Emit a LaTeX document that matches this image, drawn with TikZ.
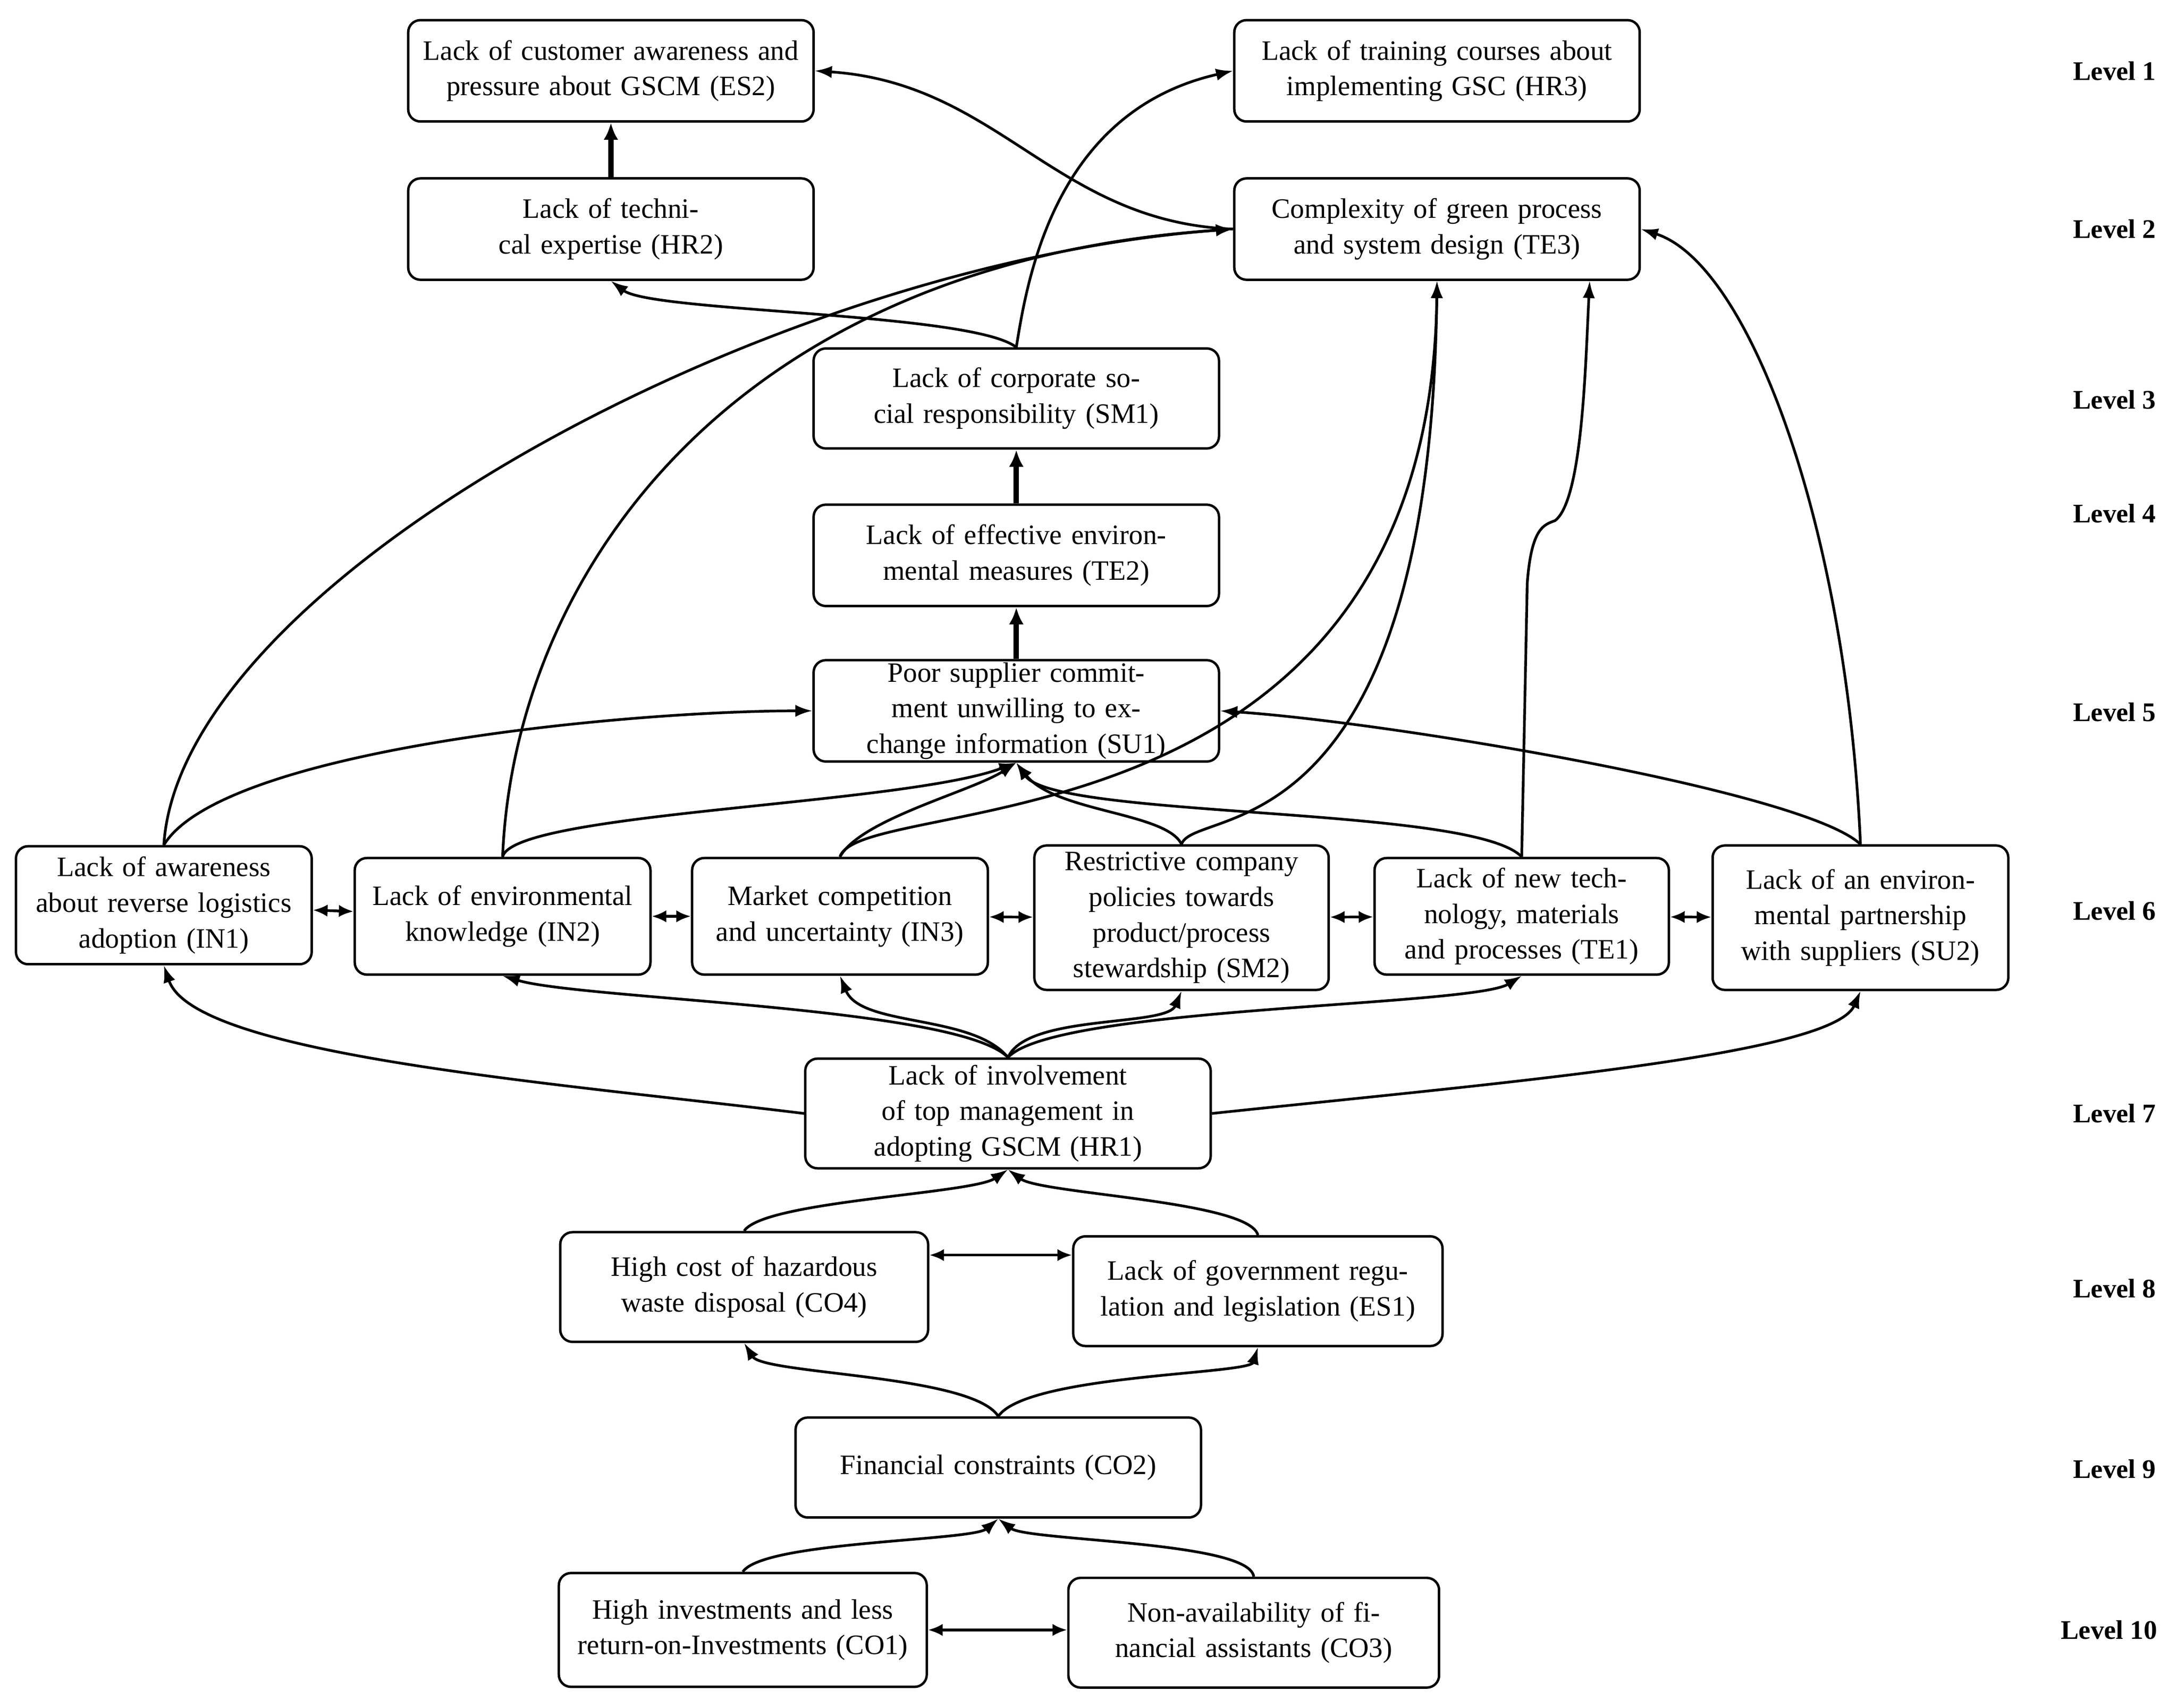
\documentclass[tikz,border=0pt]{standalone}
\usepackage{fontspec}
\setmainfont{Liberation Serif}
\usetikzlibrary{arrows.meta}
\begin{document}
\begin{tikzpicture}[x=0.02cm,y=-0.02cm,
  box/.style 2 args={draw,line width=1pt,rounded corners=5pt,align=center,inner sep=0pt,
    minimum width=#1*0.02cm,minimum height=#2*0.02cm,text width=(#1-14)*0.02cm,
    font=\fontsize{11.5}{14.6}\selectfont},
  lvl/.style={font=\fontsize{11}{13}\selectfont\bfseries},
  e/.style={line width=1.1pt,-{Latex[length=7pt,width=5pt]}},
  ee/.style={line width=1.1pt,{Latex[length=6pt,width=5pt]}-{Latex[length=6pt,width=5pt]}},
  t/.style={line width=2.2pt,-{Latex[length=7pt,width=6pt]}}]
\useasboundingbox (0,0) rectangle (1568,1230);
% nodes
\node[box={292}{73}] (ES2) at (440,51) {Lack of customer awareness and pressure about GSCM (ES2)};
\node[box={292}{73}] (HR3) at (1035,51) {Lack of training courses about implementing GSC (HR3)};
\node[box={292}{73}] (HR2) at (440,165) {Lack of technical expertise (HR2)};
\node[box={292}{73}] (TE3) at (1035,165) {Complexity of green process and system design (TE3)};
\node[box={292}{72}] (SM1) at (732,287) {Lack of corporate social responsibility (SM1)};
\node[box={292}{73}] (TE2) at (732,400) {Lack of effective environmental measures (TE2)};
\node[box={292}{73}] (SU1) at (732,512) {Poor supplier commitment unwilling to exchange information (SU1)};
\node[box={213}{85}] (IN1) at (118,652) {Lack of awareness about reverse logistics adoption (IN1)};
\node[box={213}{84}] (IN2) at (362,660) {Lack of environmental knowledge (IN2)};
\node[box={213}{84}] (IN3) at (605,660) {Market competition and uncertainty (IN3)};
\node[box={212}{104}] (SM2) at (851,661) {Restrictive company policies towards product/process stewardship (SM2)};
\node[box={212}{84}] (TE1) at (1096,660) {Lack of new technology, materials and processes (TE1)};
\node[box={213}{104}] (SU2) at (1340,661) {Lack of an environmental partnership with suppliers (SU2)};
\node[box={292}{79}] (HR1) at (726,802) {Lack of involvement of top management in adopting GSCM (HR1)};
\node[box={265}{79}] (CO4) at (536,927) {High cost of hazardous waste disposal (CO4)};
\node[box={266}{79}] (ES1) at (906,930) {Lack of government regulation and legislation (ES1)};
\node[box={292}{72}] (CO2) at (719,1057) {Financial constraints (CO2)};
\node[box={265}{82}] (CO1) at (535,1174) {High investments and less return-on-Investments (CO1)};
\node[box={267}{79}] (CO3) at (903,1176) {Non-availability of financial assistants (CO3)};
% levels
\foreach \l/\y in {1/51,2/165,3/288,4/370,5/513,6/656,7/802,8/928,9/1058}
  \node[lvl] (L\l) at (1523,\y) {Level \l};
\node[lvl] (L10) at (1519,1174) {Level 10};
% straight thick arrows
\draw[t] (HR2) -- (ES2);
\draw[t] (TE2) -- (SM1);
\draw[t] (SU1) -- (TE2);
% top curves
\draw[e] (TE3.west) .. controls (760,160) and (720,60) .. (ES2.east);
\draw[e] (SM1.north) .. controls (740,200) and (760,80) .. (HR3.west);
\draw[e] (SM1.north) .. controls (700,225) and (470,225) .. (HR2.south);
\draw[e] (IN1.north) .. controls (130,420) and (550,190) .. (TE3.west);
\draw[e] (IN1.north) .. controls (160,540) and (450,512) .. (SU1.west);
\draw[e] (IN2.north) .. controls (370,420) and (520,190) .. (TE3.west);
\draw[e] (IN2.north) .. controls (370,585) and (650,580) .. (SU1.south);
\draw[e] (IN3.north) .. controls (620,590) and (700,570) .. (SU1.south);
\draw[e] (IN3.north) .. controls (620,570) and (1030,620) .. (TE3.south);
\draw[e] (SM2.north) .. controls (840,585) and (760,585) .. (SU1.south);
\draw[e] (SM2.north) .. controls (860,580) and (1030,620) .. (TE3.south);
\draw[e] (TE1.north) .. controls (1060,580) and (760,590) .. (SU1.south);
\coordinate (k) at (1120,375);
\draw[e] (TE1.north) -- (1100,420) .. controls (1103,380) and (1112,378) .. (k) .. controls (1140,360) and (1142,260) .. (TE3.south -| 1145,0);
\draw[e] (SU2.north) .. controls (1300,570) and (1000,520) .. (SU1.east);
\draw[e] (SU2.north) .. controls (1330,380) and (1260,190) .. (TE3.east);
% level 6 pairs
\draw[ee] (IN1) -- (IN2);
\draw[ee] (IN2) -- (IN3);
\draw[ee] (IN3) -- (SM2);
\draw[ee] (SM2) -- (TE1);
\draw[ee] (TE1) -- (SU2);
% from HR1
\draw[e] (HR1.west) .. controls (400,780) and (140,760) .. (IN1.south);
\draw[e] (HR1.north) .. controls (690,725) and (420,720) .. (IN2.south);
\draw[e] (HR1.north) .. controls (700,730) and (620,740) .. (IN3.south);
\draw[e] (HR1.north) .. controls (740,730) and (840,740) .. (SM2.south);
\draw[e] (HR1.north) .. controls (760,725) and (1060,725) .. (TE1.south);
\draw[e] (HR1.east) .. controls (1080,780) and (1320,760) .. (SU2.south);
% lower levels
\draw[e] (CO4.north) .. controls (550,865) and (700,860) .. (HR1.south);
\draw[e] (ES1.north) .. controls (900,865) and (750,860) .. (HR1.south);
\draw[ee] (CO4.east |- 0,904) -- (ES1.west |- 0,904);
\draw[e] (CO2.north) .. controls (700,990) and (550,990) .. (CO4.south);
\draw[e] (CO2.north) .. controls (740,990) and (900,990) .. (ES1.south);
\draw[e] (CO1.north) .. controls (550,1110) and (700,1110) .. (CO2.south);
\draw[e] (CO3.north) .. controls (900,1110) and (740,1110) .. (CO2.south);
\draw[ee] (CO1) -- (CO1 -| CO3.west);
\end{tikzpicture}
\end{document}
